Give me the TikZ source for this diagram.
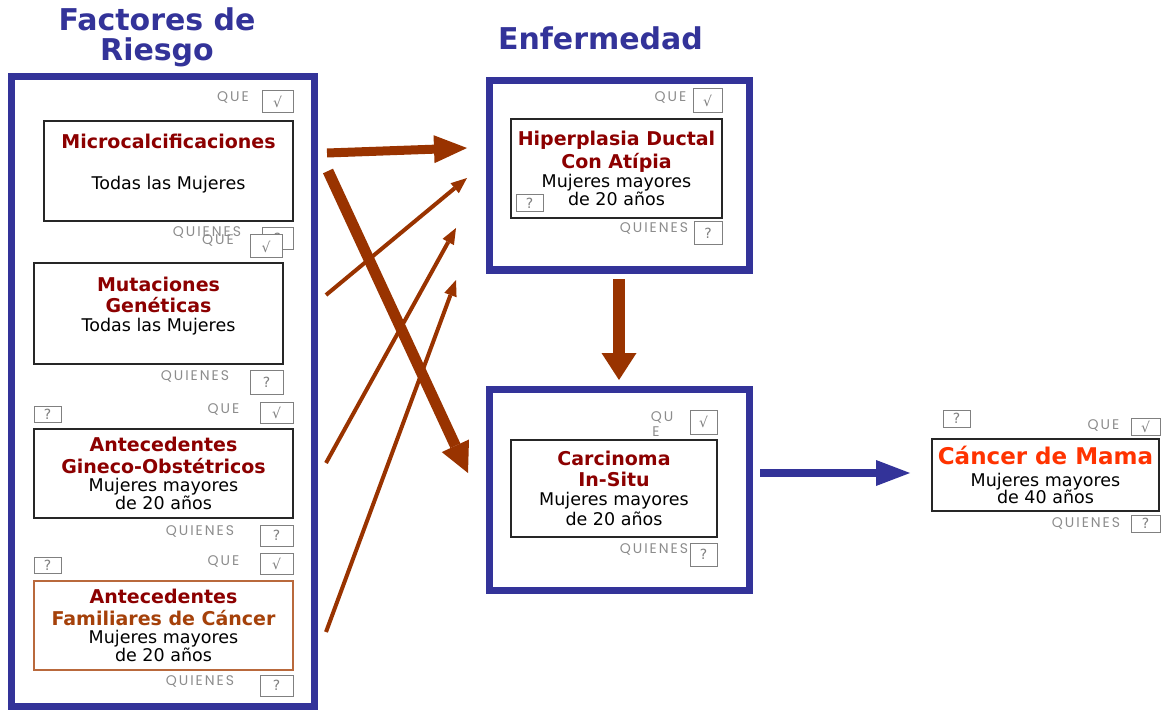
\documentclass[tikz,border=0pt]{standalone}
\usepackage{fontspec}
\setmainfont{DejaVu Sans}
\newfontfamily\lblfont[LetterSpace=14]{Poppins}
\usetikzlibrary{arrows.meta}

\definecolor{riskblue}{RGB}{51,51,153}
\definecolor{arrowbrown}{RGB}{153,51,0}
\definecolor{darkred}{RGB}{140,0,0}
\definecolor{famorange}{RGB}{165,65,10}
\definecolor{famborder}{RGB}{185,105,60}
\definecolor{cancerred}{RGB}{255,51,0}
\definecolor{lblgray}{RGB}{140,140,140}

\newcommand{\redhead}[1]{{\fontsize{19}{20}\selectfont\bfseries\color{darkred}#1}}

\begin{document}
\begin{tikzpicture}[x=1pt, y=-1pt,
			heading/.style={text=riskblue, align=center, font=\fontsize{30}{30}\selectfont\bfseries},
			bigframe/.style={draw=riskblue, line width=7pt, inner sep=0pt},
			base/.style={draw=black!85, line width=1.2pt, fill=white, align=center, inner sep=0pt, font=\fontsize{17.5}{18.5}\selectfont},
			chk/.style={draw=gray, line width=1pt, fill=white, text=gray, inner sep=0pt, minimum width=31pt, minimum height=22pt, font=\fontsize{14}{14}\selectfont},
			lbl/.style={text=lblgray, inner sep=0pt, font=\lblfont\fontsize{14}{14}\selectfont},
			fat/.style={draw=arrowbrown, line width=10pt, -{Triangle[length=33pt, width=28pt, line width=0pt]}},
			slim/.style={draw=arrowbrown, line width=4pt, -{Triangle[length=16pt, width=13pt, line width=0pt]}},
		]
		\useasboundingbox (0,0) rectangle (1161,711);

		% titulos
		\node[heading] (factores) at (157,37) {Factores de\\Riesgo};
		\node[heading] (enfermedad) at (600.5,38) {Enfermedad};

		% marcos
		\node[bigframe, minimum width=303pt, minimum height=629pt] (riesgo) at (162.5,391.5) {};
		\node[bigframe, minimum width=260pt, minimum height=189pt] (marcohiper) at (619,175.5) {};
		\node[bigframe, minimum width=260pt, minimum height=201pt] (marcocarci) at (619,489.5) {};

		% factores de riesgo
		\node[base, minimum width=249pt, minimum height=100pt] (micro) at (168.5,171) {\redhead{Microcalcificaciones}\\[23pt]Todas las Mujeres\\\mbox{}};
		\node[base, minimum width=249pt, minimum height=101pt] (mutacion) at (158.5,313.5) {\redhead{Mutaciones}\\[3pt]\redhead{Genéticas}\\Todas las Mujeres\\\mbox{}};
		\node[base, minimum width=259pt, minimum height=89pt] (gineco) at (163.5,473.5) {\redhead{Antecedentes}\\[3pt]\redhead{Gineco-Obstétricos}\\Mujeres mayores\\[-1pt]de 20 años};
		\node[base, draw=famborder, minimum width=259pt, minimum height=89pt] (familiar) at (163.5,625.5) {\redhead{Antecedentes}\\[3pt]{\fontsize{19}{20}\selectfont\bfseries\color{famorange}Familiares de Cáncer}\\Mujeres mayores\\[-1pt]de 20 años};

		% enfermedad
		\node[base, minimum width=211pt, minimum height=99pt] (hiperplasia) at (616.5,168.5) {\redhead{Hiperplasia Ductal}\\[3pt]\redhead{Con Atípia}\\Mujeres mayores\\de 20 años};
		\node[base, minimum width=206pt, minimum height=97pt] (carcinoma) at (614,488.5) {\redhead{Carcinoma}\\[2pt]\redhead{In-Situ}\\[1pt]Mujeres mayores\\[1pt]de 20 años};
		\node[base, minimum width=227pt, minimum height=72pt] (cancer) at (1045.5,475) {{\fontsize{23}{22}\selectfont\bfseries\color{cancerred}Cáncer de Mama}\\[3pt]Mujeres mayores\\[-1pt]de 40 años};

		% casillas QUE / QUIENES
		\node[chk] (quemicro) at (277.5,102) {√};
		\node[lbl] (lquemicro) at (233,97) {QUE};
		\node[chk] (quienesmicro) at (277.5,238.5) {?};
		\node[lbl] (lquienesmicro) at (207,232) {QUIENES};
		\node[chk, minimum width=32pt, minimum height=23pt] (quemutacion) at (266,246.5) {√};
		\node[lbl] (lquemutacion) at (218,240) {QUE};
		\node[chk, minimum width=33pt, minimum height=24pt] (quienesmutacion) at (266.5,382) {?};
		\node[lbl] (lquienesmutacion) at (195,376) {QUIENES};

		\node[chk, minimum width=27pt, minimum height=16pt] (extragineco) at (47.5,414) {?};
		\node[chk, minimum width=33pt, minimum height=21pt] (quegineco) at (276.5,412.5) {√};
		\node[lbl] (lquegineco) at (223.5,409) {QUE};
		\node[chk, minimum width=33pt, minimum height=21pt] (quienesgineco) at (276.5,535.5) {?};
		\node[lbl] (lquienesgineco) at (200,531) {QUIENES};

		\node[chk, minimum width=27pt, minimum height=16pt] (extrafamiliar) at (47.5,565) {?};
		\node[chk, minimum width=33pt, minimum height=21pt] (quefamiliar) at (276.5,563.5) {√};
		\node[lbl] (lquefamiliar) at (223.5,561) {QUE};
		\node[chk, minimum width=33pt, minimum height=21pt] (quienesfamiliar) at (276.5,685.5) {?};
		\node[lbl] (lquienesfamiliar) at (200,681) {QUIENES};

		\node[chk, minimum width=29pt, minimum height=24pt] (quehiper) at (707.5,101) {√};
		\node[lbl] (lquehiper) at (670.5,97) {QUE};
		\node[chk, minimum width=27pt, minimum height=17pt] (extrahiper) at (529.5,203.5) {?};
		\node[chk, minimum width=28pt, minimum height=23pt] (quieneshiper) at (708,233.5) {?};
		\node[lbl] (lquieneshiper) at (654,228) {QUIENES};

		\node[chk, minimum width=27pt, minimum height=24pt] (quecarci) at (703.5,422) {√};
		\node[lbl] (lquecarci) at (662,417) {QU};
		\node[lbl] (lquecarcib) at (656,432) {E};
		\node[chk, minimum width=27pt, minimum height=23pt] (quienescarci) at (703.5,554.5) {?};
		\node[lbl] (lquienescarci) at (654,549) {QUIENES};

		\node[chk, minimum width=27pt, minimum height=17pt] (extracancer) at (956.5,418.5) {?};
		\node[chk, minimum width=29pt, minimum height=17pt] (quecancer) at (1145.5,426.5) {√};
		\node[lbl] (lquecancer) at (1103.5,425) {QUE};
		\node[chk, minimum width=29pt, minimum height=17pt] (quienescancer) at (1145.5,523.5) {?};
		\node[lbl] (lquienescancer) at (1086,523) {QUIENES};

		% flechas
		\coordinate (s1) at (327,153);
		\coordinate (t1) at (467,148);
		\coordinate (s2) at (328,171);
		\coordinate (t2) at (468,473);
		\coordinate (s3) at (326,295);
		\coordinate (t3) at (467,178);
		\coordinate (s4) at (326,463);
		\coordinate (t4) at (456,228);
		\coordinate (s5) at (326,632);
		\coordinate (t5) at (456,280);
		\coordinate (s6) at (619,279);
		\coordinate (t6) at (619,380);
		\coordinate (s7) at (760,473);
		\coordinate (t7) at (910,473);

		\draw[fat, line width=9pt] (s1) -- (t1);
		\draw[slim] (s3) -- (t3);
		\draw[slim] (s4) -- (t4);
		\draw[slim] (s5) -- (t5);
		\draw[fat, line width=11pt, -{Triangle[length=30pt, width=30pt, line width=0pt]}] (s2) -- (t2);
		\draw[fat, line width=12pt, -{Triangle[length=27pt, width=35pt, line width=0pt]}] (s6) -- (t6);
		\draw[fat, draw=riskblue, line width=8pt, -{Triangle[length=34pt, width=26pt, line width=0pt]}] (s7) -- (t7);

\end{tikzpicture}
\end{document}
